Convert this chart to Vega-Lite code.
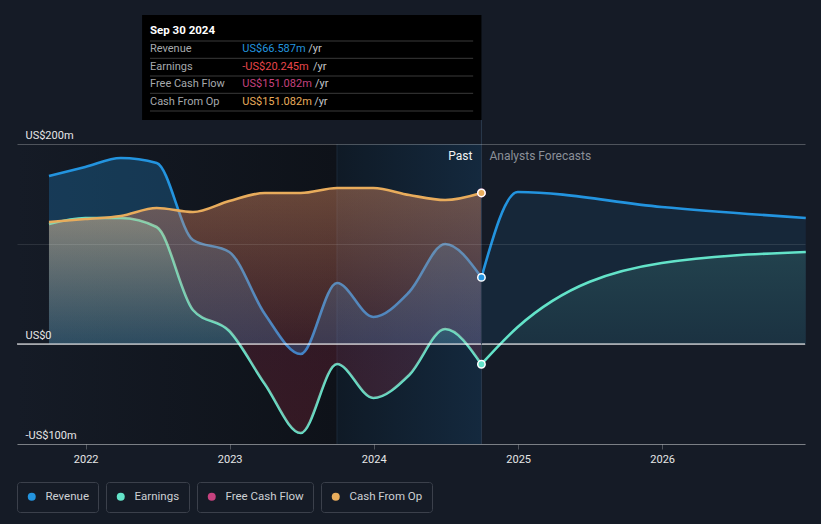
{
  "$schema": "https://vega.github.io/schema/vega-lite/v6.json",
  "width": 788,
  "height": 444,
  "autosize": "none",
  "padding": {"left": 17, "right": 16, "top": 0, "bottom": 80},
  "background": "#151b26",
  "config": {
    "view": {"stroke": null},
    "font": "Roboto",
    "legend": {
      "orient": "bottom",
      "direction": "horizontal",
      "labelColor": "#cdd0d4",
      "labelFontSize": 11.5,
      "labelFont": "Roboto",
      "symbolType": "circle",
      "symbolSize": 64,
      "symbolStrokeWidth": 0,
      "labelOffset": 8,
      "strokeColor": "#3b404b",
      "cornerRadius": 3,
      "padding": 9,
      "offset": 18
    }
  },
  "data": {"values": [{}]},
  "datasets": {
    "past": [
      {"date": "2021-09-30", "revenue": 168, "earnings": 120, "fcf": 122, "cfo": 122},
      {"date": "2021-12-31", "revenue": 177, "earnings": 126, "fcf": 125, "cfo": 125},
      {"date": "2022-03-31", "revenue": 186, "earnings": 126, "fcf": 128, "cfo": 128},
      {"date": "2022-06-30", "revenue": 181, "earnings": 117, "fcf": 136, "cfo": 136},
      {"date": "2022-09-30", "revenue": 104, "earnings": 34, "fcf": 132, "cfo": 132},
      {"date": "2022-12-31", "revenue": 92, "earnings": 13, "fcf": 143, "cfo": 143},
      {"date": "2023-03-31", "revenue": 30, "earnings": -40, "fcf": 151, "cfo": 151},
      {"date": "2023-06-30", "revenue": -10, "earnings": -89, "fcf": 151, "cfo": 151},
      {"date": "2023-09-30", "revenue": 61, "earnings": -20, "fcf": 156, "cfo": 156},
      {"date": "2023-12-31", "revenue": 27, "earnings": -54, "fcf": 156, "cfo": 156},
      {"date": "2024-03-31", "revenue": 52, "earnings": -31, "fcf": 149, "cfo": 149},
      {"date": "2024-06-30", "revenue": 100, "earnings": 15, "fcf": 144, "cfo": 144},
      {"date": "2024-09-30", "revenue": 66.587, "earnings": -20.245, "fcf": 151.082, "cfo": 151.082}
    ],
    "forecast": [
      {"date": "2024-09-30", "revenue": 66.587, "earnings": -20.245},
      {"date": "2024-12-31", "revenue": 152, "earnings": 17},
      {"date": "2025-12-31", "revenue": 137, "earnings": 81},
      {"date": "2026-12-31", "revenue": 126, "earnings": 92}
    ],
    "latest": [
      {"date": "2024-09-30", "revenue": 66.587, "earnings": -20.245, "fcf": 151.082, "cfo": 151.082}
    ]
  },
  "layer": [
    {
      "mark": {"type": "rect", "fill": {"gradient": "linear", "x1": 0, "y1": 0, "x2": 1, "y2": 0, "stops": [{"offset": 0, "color": "#151b26"}, {"offset": 1, "color": "#0e1219"}]}},
      "encoding": {
        "x": {
          "datum": {"year": 2021, "month": 7, "date": 11},
          "type": "temporal",
          "scale": {"domain": [{"year": 2021, "month": 7, "date": 11}, {"year": 2026, "month": 12, "date": 29}]},
          "axis": {
            "title": null,
            "values": [{"year": 2022, "month": 1, "date": 1}, {"year": 2023, "month": 1, "date": 1}, {"year": 2024, "month": 1, "date": 1}, {"year": 2025, "month": 1, "date": 1}, {"year": 2026, "month": 1, "date": 1}],
            "format": "%Y",
            "labelColor": "#e6e6e6",
            "labelFontSize": 11,
            "labelFont": "Roboto",
            "tickColor": "rgba(255,255,255,0.25)",
            "tickSize": 5,
            "domainColor": "rgba(255,255,255,0.25)",
            "grid": false,
            "labelPadding": 4
          }
        },
        "x2": {"datum": {"year": 2023, "month": 9, "date": 30}},
        "y": {
          "datum": 200,
          "type": "quantitative",
          "scale": {"domain": [-100, 344], "nice": false, "zero": false},
          "axis": {
            "title": null,
            "values": [-100, 0, 100, 200],
            "labelExpr": "datum.value == 200 ? 'US$200m' : datum.value == 0 ? 'US$0' : datum.value == -100 ? '-US$100m' : ''",
            "grid": true,
            "gridColor": {"condition": {"test": "datum.value == 100", "value": "rgba(255,255,255,0.1)"}, "value": "rgba(255,255,255,0.25)"},
            "domain": false,
            "ticks": false,
            "tickSize": 0,
            "labelAlign": "left",
            "labelBaseline": "alphabetic",
            "labelPadding": -8,
            "labelOffset": -6,
            "labelColor": "#e6e6e6",
            "labelFontSize": 11,
            "labelFont": "Roboto",
            "zindex": 1
          }
        },
        "y2": {"datum": -100}
      }
    },
    {
      "mark": {"type": "rect", "fill": {"gradient": "linear", "x1": 0, "y1": 0, "x2": 1, "y2": 0, "stops": [{"offset": 0, "color": "#0f1a26"}, {"offset": 1, "color": "#14293e"}]}},
      "encoding": {
        "x": {"datum": {"year": 2023, "month": 9, "date": 30}, "type": "temporal"},
        "x2": {"datum": {"year": 2024, "month": 9, "date": 30}},
        "y": {"datum": 200, "type": "quantitative"},
        "y2": {"datum": -100}
      }
    },
    {
      "mark": {"type": "rule", "stroke": "#1b2838", "strokeWidth": 1},
      "encoding": {
        "x": {"datum": {"year": 2023, "month": 9, "date": 30}, "type": "temporal"},
        "y": {"datum": 200, "type": "quantitative"},
        "y2": {"datum": -100}
      }
    },
    {
      "data": {"name": "past"},
      "mark": {"type": "area", "interpolate": "monotone", "fill": "rgba(35,148,223,0.27)", "opacity": 1},
      "encoding": {
        "x": {"field": "date", "type": "temporal"},
        "y": {"field": "revenue", "type": "quantitative"},
        "y2": {"datum": 0}
      }
    },
    {
      "data": {"name": "forecast"},
      "mark": {"type": "area", "interpolate": "monotone", "fill": "rgba(35,148,223,0.1)", "opacity": 1},
      "encoding": {
        "x": {"field": "date", "type": "temporal"},
        "y": {"field": "revenue", "type": "quantitative"},
        "y2": {"datum": 0}
      }
    },
    {
      "data": {"name": "past"},
      "mark": {"type": "area", "interpolate": "monotone", "opacity": 1, "fill": {"gradient": "linear", "x1": 0, "y1": 0, "x2": 0, "y2": 1, "stops": [{"offset": 0, "color": "rgba(255,240,230,0.3)"}, {"offset": 0.58, "color": "rgba(170,200,200,0.1)"}, {"offset": 0.586, "color": "rgba(0,0,0,0)"}, {"offset": 1, "color": "rgba(0,0,0,0)"}]}},
      "encoding": {
        "x": {"field": "date", "type": "temporal"},
        "y": {"field": "earnings", "type": "quantitative"},
        "y2": {"datum": 0}
      }
    },
    {
      "data": {"name": "forecast"},
      "mark": {"type": "area", "interpolate": "monotone", "opacity": 1, "fill": {"gradient": "linear", "x1": 0, "y1": 0, "x2": 0, "y2": 1, "stops": [{"offset": 0, "color": "rgba(108,228,201,0.14)"}, {"offset": 1, "color": "rgba(108,228,201,0.04)"}]}},
      "encoding": {
        "x": {"field": "date", "type": "temporal"},
        "y": {"field": "earnings", "type": "quantitative"},
        "y2": {"datum": 0}
      }
    },
    {
      "data": {"name": "past"},
      "mark": {"type": "line", "interpolate": "monotone", "stroke": "#2394df", "strokeWidth": 2.6},
      "encoding": {"x": {"field": "date", "type": "temporal"}, "y": {"field": "revenue", "type": "quantitative"}}
    },
    {
      "data": {"name": "forecast"},
      "mark": {"type": "line", "interpolate": "monotone", "stroke": "#2394df", "strokeWidth": 2.6},
      "encoding": {"x": {"field": "date", "type": "temporal"}, "y": {"field": "revenue", "type": "quantitative"}}
    },
    {
      "data": {"name": "past"},
      "mark": {"type": "line", "interpolate": "monotone", "stroke": "#63e3c9", "strokeWidth": 2.6},
      "encoding": {"x": {"field": "date", "type": "temporal"}, "y": {"field": "earnings", "type": "quantitative"}}
    },
    {
      "data": {"name": "forecast"},
      "mark": {"type": "line", "interpolate": "monotone", "stroke": "#63e3c9", "strokeWidth": 2.6},
      "encoding": {"x": {"field": "date", "type": "temporal"}, "y": {"field": "earnings", "type": "quantitative"}}
    },
    {
      "data": {"name": "past"},
      "mark": {"type": "area", "interpolate": "monotone", "opacity": 1, "fill": {"gradient": "linear", "x1": 0, "y1": 0, "x2": 0, "y2": 1, "stops": [{"offset": 0, "color": "rgba(200,60,110,0.17)"}, {"offset": 1, "color": "rgba(215,50,75,0.19)"}]}},
      "encoding": {
        "x": {"field": "date", "type": "temporal"},
        "y": {"field": "fcf", "type": "quantitative"},
        "y2": {"field": "earnings"}
      }
    },
    {
      "data": {"name": "past"},
      "mark": {"type": "area", "interpolate": "monotone", "opacity": 1, "fill": {"gradient": "linear", "x1": 0, "y1": 0, "x2": 0, "y2": 1, "stops": [{"offset": 0, "color": "rgba(240,175,95,0.3)"}, {"offset": 1, "color": "rgba(240,175,95,0.04)"}]}},
      "encoding": {
        "x": {"field": "date", "type": "temporal"},
        "y": {"field": "cfo", "type": "quantitative"},
        "y2": {"datum": 0}
      }
    },
    {
      "data": {"name": "past"},
      "mark": {"type": "line", "interpolate": "monotone", "stroke": "#e8ac5c", "strokeWidth": 2.6},
      "encoding": {"x": {"field": "date", "type": "temporal"}, "y": {"field": "cfo", "type": "quantitative"}}
    },
    {
      "mark": {"type": "rule", "stroke": "#ffffff", "strokeWidth": 1},
      "encoding": {"y": {"datum": 0, "type": "quantitative"}}
    },
    {
      "mark": {"type": "rule", "stroke": "#2b3a4d", "strokeWidth": 1},
      "encoding": {
        "x": {"datum": {"year": 2024, "month": 9, "date": 30}, "type": "temporal"},
        "y": {"datum": 224, "type": "quantitative"},
        "y2": {"datum": -100}
      }
    },
    {
      "data": {"name": "latest"},
      "mark": {"type": "point", "filled": true, "size": 55, "stroke": "#ffffff", "strokeWidth": 1.5, "opacity": 1},
      "encoding": {
        "x": {"field": "date", "type": "temporal"},
        "y": {"field": "revenue", "type": "quantitative"},
        "color": {"datum": "Revenue", "scale": {"domain": ["Revenue"], "range": ["#2394df"]}, "legend": {"title": null}}
      }
    },
    {
      "data": {"name": "latest"},
      "mark": {"type": "point", "filled": true, "size": 55, "stroke": "#ffffff", "strokeWidth": 1.5, "opacity": 1},
      "encoding": {
        "x": {"field": "date", "type": "temporal"},
        "y": {"field": "earnings", "type": "quantitative"},
        "fill": {"datum": "Earnings", "scale": {"domain": ["Earnings"], "range": ["#63e3c9"]}, "legend": {"title": null}}
      }
    },
    {
      "data": {"name": "latest"},
      "mark": {"type": "point", "filled": false, "fill": "#c6427f", "size": 55, "strokeWidth": 1.5, "opacity": 1},
      "encoding": {
        "x": {"field": "date", "type": "temporal"},
        "y": {"field": "fcf", "type": "quantitative"},
        "stroke": {"datum": "Free Cash Flow", "scale": {"domain": ["Free Cash Flow"], "range": ["#c6427f"]}, "legend": {"title": null}}
      }
    },
    {
      "data": {"name": "latest"},
      "mark": {"type": "point", "filled": true, "fill": "#e8ac5c", "color": "#e8ac5c", "size": 55, "stroke": "#ffffff", "strokeWidth": 1.5, "opacity": 1},
      "encoding": {
        "x": {"field": "date", "type": "temporal"},
        "y": {"field": "cfo", "type": "quantitative"},
        "shape": {"datum": "Cash From Op", "scale": {"domain": ["Cash From Op"], "range": ["circle"]}, "legend": {"title": null}}
      }
    },
    {
      "mark": {"type": "rect", "fill": "#000000"},
      "encoding": {
        "x": {"datum": {"year": 2022, "month": 5, "date": 24}, "type": "temporal"},
        "x2": {"datum": {"year": 2024, "month": 9, "date": 30}},
        "y": {"datum": 329, "type": "quantitative"},
        "y2": {"datum": 224}
      }
    },
    {
      "mark": {"type": "text", "text": "Sep 30 2024", "align": "left", "baseline": "middle", "fontSize": 11.5, "fontWeight": "bold", "color": "#ffffff"},
      "encoding": {"x": {"datum": {"year": 2022, "month": 6, "date": 13}, "type": "temporal"}, "y": {"datum": 313, "type": "quantitative"}}
    },
    {
      "mark": {"type": "rule", "stroke": "#3a3a3a", "strokeWidth": 1},
      "encoding": {"x": {"datum": {"year": 2022, "month": 6, "date": 13}, "type": "temporal"}, "x2": {"datum": {"year": 2024, "month": 9, "date": 9}}, "y": {"datum": 303, "type": "quantitative"}}
    },
    {
      "mark": {"type": "rule", "stroke": "#3a3a3a", "strokeWidth": 1},
      "encoding": {"x": {"datum": {"year": 2022, "month": 6, "date": 13}, "type": "temporal"}, "x2": {"datum": {"year": 2024, "month": 9, "date": 9}}, "y": {"datum": 285.7, "type": "quantitative"}}
    },
    {
      "mark": {"type": "rule", "stroke": "#3a3a3a", "strokeWidth": 1},
      "encoding": {"x": {"datum": {"year": 2022, "month": 6, "date": 13}, "type": "temporal"}, "x2": {"datum": {"year": 2024, "month": 9, "date": 9}}, "y": {"datum": 268, "type": "quantitative"}}
    },
    {
      "mark": {"type": "rule", "stroke": "#3a3a3a", "strokeWidth": 1},
      "encoding": {"x": {"datum": {"year": 2022, "month": 6, "date": 13}, "type": "temporal"}, "x2": {"datum": {"year": 2024, "month": 9, "date": 9}}, "y": {"datum": 250.7, "type": "quantitative"}}
    },
    {
      "mark": {"type": "rule", "stroke": "#3a3a3a", "strokeWidth": 1},
      "encoding": {"x": {"datum": {"year": 2022, "month": 6, "date": 13}, "type": "temporal"}, "x2": {"datum": {"year": 2024, "month": 9, "date": 9}}, "y": {"datum": 233, "type": "quantitative"}}
    },
    {
      "mark": {"type": "text", "text": "Revenue", "align": "left", "baseline": "middle", "fontSize": 11, "color": "#a6a9ad"},
      "encoding": {"x": {"datum": {"year": 2022, "month": 6, "date": 13}, "type": "temporal"}, "y": {"datum": 294.7, "type": "quantitative"}}
    },
    {
      "mark": {"type": "text", "text": "Earnings", "align": "left", "baseline": "middle", "fontSize": 11, "color": "#a6a9ad"},
      "encoding": {"x": {"datum": {"year": 2022, "month": 6, "date": 13}, "type": "temporal"}, "y": {"datum": 277.3, "type": "quantitative"}}
    },
    {
      "mark": {"type": "text", "text": "Free Cash Flow", "align": "left", "baseline": "middle", "fontSize": 11, "color": "#a6a9ad"},
      "encoding": {"x": {"datum": {"year": 2022, "month": 6, "date": 13}, "type": "temporal"}, "y": {"datum": 259.7, "type": "quantitative"}}
    },
    {
      "mark": {"type": "text", "text": "Cash From Op", "align": "left", "baseline": "middle", "fontSize": 11, "color": "#a6a9ad"},
      "encoding": {"x": {"datum": {"year": 2022, "month": 6, "date": 13}, "type": "temporal"}, "y": {"datum": 242.3, "type": "quantitative"}}
    },
    {
      "mark": {"type": "text", "text": "US$66.587m", "align": "left", "baseline": "middle", "fontSize": 11, "color": "#2394df"},
      "encoding": {"x": {"datum": {"year": 2023, "month": 2, "date": 2}, "type": "temporal"}, "y": {"datum": 294.7, "type": "quantitative"}}
    },
    {
      "mark": {"type": "text", "text": "-US$20.245m", "align": "left", "baseline": "middle", "fontSize": 11, "color": "#e8464a"},
      "encoding": {"x": {"datum": {"year": 2023, "month": 2, "date": 2}, "type": "temporal"}, "y": {"datum": 277.3, "type": "quantitative"}}
    },
    {
      "mark": {"type": "text", "text": "US$151.082m", "align": "left", "baseline": "middle", "fontSize": 11, "color": "#c6427f"},
      "encoding": {"x": {"datum": {"year": 2023, "month": 2, "date": 2}, "type": "temporal"}, "y": {"datum": 259.7, "type": "quantitative"}}
    },
    {
      "mark": {"type": "text", "text": "US$151.082m", "align": "left", "baseline": "middle", "fontSize": 11, "color": "#e8ac5c"},
      "encoding": {"x": {"datum": {"year": 2023, "month": 2, "date": 2}, "type": "temporal"}, "y": {"datum": 242.3, "type": "quantitative"}}
    },
    {
      "mark": {"type": "text", "text": "/yr", "align": "left", "baseline": "middle", "fontSize": 11, "color": "#c4c6c9"},
      "encoding": {"x": {"datum": {"year": 2023, "month": 7, "date": 19}, "type": "temporal"}, "y": {"datum": 294.7, "type": "quantitative"}}
    },
    {
      "mark": {"type": "text", "text": "/yr", "align": "left", "baseline": "middle", "fontSize": 11, "color": "#c4c6c9"},
      "encoding": {"x": {"datum": {"year": 2023, "month": 7, "date": 31}, "type": "temporal"}, "y": {"datum": 277.3, "type": "quantitative"}}
    },
    {
      "mark": {"type": "text", "text": "/yr", "align": "left", "baseline": "middle", "fontSize": 11, "color": "#c4c6c9"},
      "encoding": {"x": {"datum": {"year": 2023, "month": 8, "date": 5}, "type": "temporal"}, "y": {"datum": 259.7, "type": "quantitative"}}
    },
    {
      "mark": {"type": "text", "text": "/yr", "align": "left", "baseline": "middle", "fontSize": 11, "color": "#c4c6c9"},
      "encoding": {"x": {"datum": {"year": 2023, "month": 8, "date": 3}, "type": "temporal"}, "y": {"datum": 242.3, "type": "quantitative"}}
    },
    {
      "mark": {"type": "text", "text": "Past", "align": "right", "baseline": "middle", "dx": -9, "fontSize": 12, "color": "#f2f2f2"},
      "encoding": {"x": {"datum": {"year": 2024, "month": 9, "date": 30}, "type": "temporal"}, "y": {"datum": 188, "type": "quantitative"}}
    },
    {
      "mark": {"type": "text", "text": "Analysts Forecasts", "align": "left", "baseline": "middle", "dx": 8, "fontSize": 12, "color": "#8b9098"},
      "encoding": {"x": {"datum": {"year": 2024, "month": 9, "date": 30}, "type": "temporal"}, "y": {"datum": 188, "type": "quantitative"}}
    }
  ]
}
